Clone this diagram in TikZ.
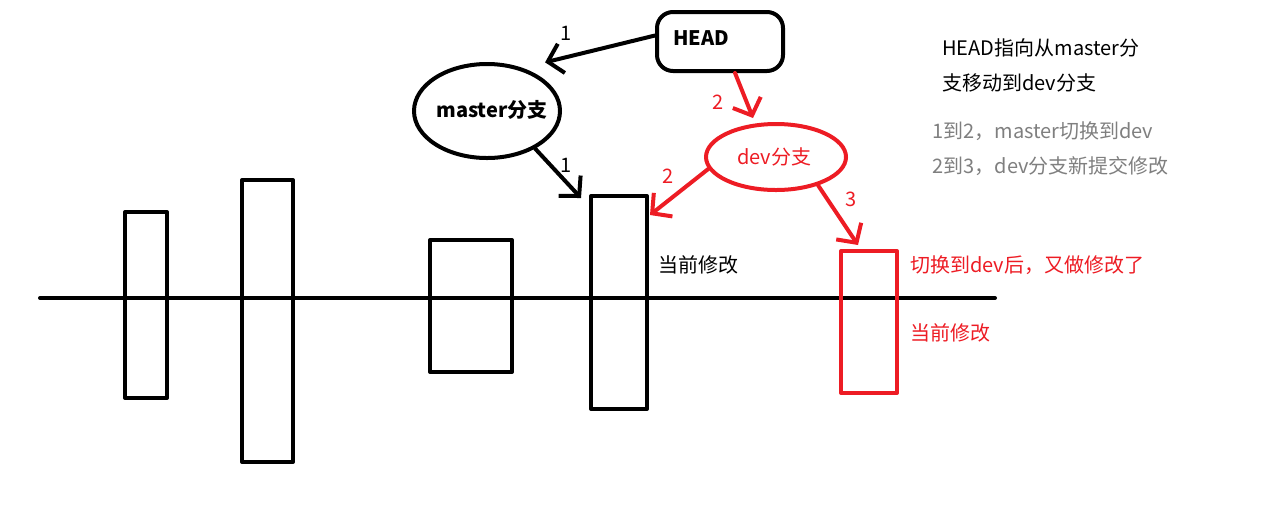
\documentclass[tikz,border=0pt]{standalone}
\usepackage{fontspec}
\setmainfont{Noto Sans CJK SC}
\usetikzlibrary{arrows.meta,shapes.geometric}
\definecolor{pred}{HTML}{ED1C24}
\definecolor{pgray}{HTML}{7F7F7F}
\tikzset{
  ln/.style={line width=2pt,line cap=round,line join=round},
  commit/.style={ln,draw,rectangle,inner sep=0pt},
  arr/.style={ln,-{Straight Barb[length=7pt,width=15pt]}},
  txt/.style={inner sep=0pt,font=\fontsize{10pt}{12pt}\selectfont},
  num/.style={inner sep=0pt,font=\fontsize{10pt}{12pt}\selectfont},
}
\begin{document}
\begin{tikzpicture}[x=0.5pt,y=-0.5pt]
\useasboundingbox (0,0) rectangle (1267,505);
% timeline
\coordinate (l0) at (40,298);
\coordinate (l1) at (995,298);
\draw[ln] (l0) -- (l1);
% commits
\node[commit,minimum width=21pt,minimum height=93pt] (r1) at (146,305) {};
\node[commit,minimum width=25.5pt,minimum height=141pt] (r2) at (267.5,321) {};
\node[commit,minimum width=41pt,minimum height=66pt] (r3) at (471,306) {};
\node[commit,minimum width=28pt,minimum height=106.5pt] (r4) at (619,302.5) {};
\node[commit,draw=pred,minimum width=28pt,minimum height=71pt] (r5) at (869,322) {};
% HEAD
\node[ln,draw,rounded corners=8pt,minimum width=63pt,minimum height=29.5pt,inner sep=0pt] (head) at (720,41.5) {};
\node[txt,font=\fontsize{10pt}{12pt}\selectfont\bfseries] (headtxt) at (701,38) {HEAD};
% branches
\node[ln,draw,ellipse,minimum width=73pt,minimum height=47pt,inner sep=0pt] (master) at (487,111) {};
\node[txt,font=\fontsize{10pt}{12pt}\selectfont\bfseries] (mastertxt) at (492,110) {master分支};
\node[ln,draw=pred,ellipse,minimum width=70pt,minimum height=33pt,inner sep=0pt] (dev) at (776,157) {};
\node[txt,text=pred] (devtxt) at (774,157) {dev分支};
% arrows
\draw[arr] ([yshift=3pt]head.west) -- ([xshift=6pt,yshift=5pt]master.40);
\draw[arr] (master.-38) -- ([xshift=-4pt,yshift=-2pt]r4.north west);
\draw[arr,pred] ([xshift=7.5pt]head.south) -- ([xshift=-11.5pt,yshift=2pt]dev.north);
\draw[arr,pred] (dev.190) -- ([xshift=0.5pt,yshift=-10.5pt]r4.north east);
\draw[arr,pred] (dev.-34) -- ([xshift=-5.5pt,yshift=2pt]r5.north);
% numbers
\node[num] (n1a) at (566,33) {1};
\node[num] (n1b) at (566,165) {1};
\node[num,text=pred] (n2a) at (718,102) {2};
\node[num,text=pred] (n2b) at (668,176) {2};
\node[num,text=pred] (n3) at (851,199) {3};
% texts
\node[txt,anchor=west] (cur1) at (658,265) {当前修改};
\node[txt,anchor=west,text=pred] (sw) at (910,265) {切换到dev后，又做修改了};
\node[txt,anchor=west,text=pred] (cur2) at (910,333) {当前修改};
\node[txt,anchor=west] (d1) at (942,48) {HEAD指向从master分};
\node[txt,anchor=west] (d2) at (942,83) {支移动到dev分支};
\node[txt,anchor=west,text=pgray] (g1) at (932,131) {1到2，master切换到dev};
\node[txt,anchor=west,text=pgray] (g2) at (932,166) {2到3，dev分支新提交修改};
\end{tikzpicture}
\end{document}
